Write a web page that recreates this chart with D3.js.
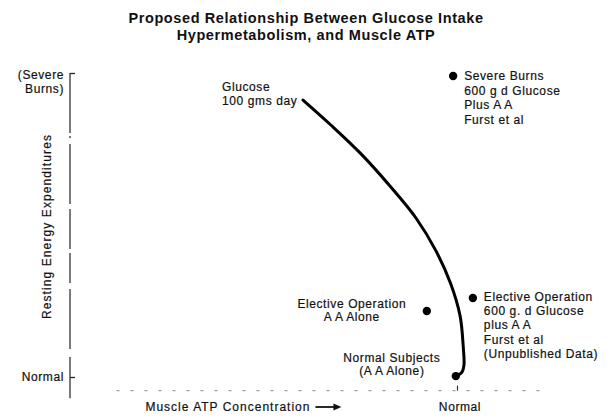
<!DOCTYPE html>
<html>
<head>
<meta charset="utf-8">
<script src="https://cdn.jsdelivr.net/npm/d3@7"></script>
<style>
  body { margin: 0; background: #fff; }
  svg text { font-family: "Liberation Sans", Arial, sans-serif; fill: #111; }
  .ann { font-size: 12px; letter-spacing: 0.6px; stroke: #111; stroke-width: 0.2px; }
  .title { font-size: 14.5px; font-weight: bold; letter-spacing: 0.6px; }
</style>
</head>
<body>
<svg id="chart" width="613" height="418"></svg>
<script>
// x = muscle ATP concentration (100 = normal), y = resting energy expenditure (0 = normal, 100 = severe burns)
var titleLines = ["Proposed Relationship Between Glucose Intake", "Hypermetabolism, and Muscle ATP"]

var curveATP = [60.2, 67.4, 75.2, 82.9, 89.4, 94.6, 98.4, 100.8, 101.6, 101.8, 101.3, 100.0]
var curveREE = [91.1, 82.9, 73.4, 62.5, 52.3, 41.4, 30.6, 20.1, 10.2, 3.9, 1.6, 0.4]
var curveLabel = ["Glucose", "100 gms day"]

var pointATP = [99.0, 104.1, 92.2, 99.7]
var pointREE = [99.0, 26.0, 21.7, 0.3]
var pointLabels = [
	["Severe Burns", "600 g d Glucose", "Plus A A", "Furst et al"],
	["Elective Operation", "600 g. d Glucose", "plus A A", "Furst et al", "(Unpublished Data)"],
	["Elective Operation", "A A  Alone"],
	["Normal Subjects", "(A A  Alone)"]
]

var yTicks = [0, 100]
var yTickLabels = [["Normal"], ["(Severe", "Burns)"]]
var xTicks = [100]
var xTickLabels = ["Normal"]
var yTitle = "Resting Energy Expenditures"
var xTitle = "Muscle ATP Concentration"

var svg = d3.select("#chart")
var x = d3.scaleLinear().domain([0, 100]).range([70, 457])
var y = d3.scaleLinear().domain([0, 100]).range([377, 73])

// title
svg.selectAll(".title").data(titleLines).enter()
	.append("text")
	.attr("class", "title")
	.attr("x", 306)
	.attr("y", function(d, i) { return 23 + i * 17 })
	.attr("text-anchor", "middle")
	.text(function(d) { return d })

// y axis
var yAxis = svg.append("g")
	.attr("transform", "translate(" + x(0) + ",0)")
	.call(d3.axisLeft(y).tickValues(yTicks).tickSize(-5).tickFormat(""))
yAxis.select(".domain").remove()
yAxis.selectAll(".tick line").attr("stroke", "#222").attr("stroke-width", 1.3)
yAxis.append("line")
	.attr("x1", 0).attr("x2", 0)
	.attr("y1", y(100)).attr("y2", y(-7))
	.attr("stroke", "#333")
	.attr("stroke-width", 1.3)
	.attr("stroke-dasharray", "60,3,2,6,60,5,40,4,30,6,60,8")

yTicks.forEach(function(v, i) {
	var lines = yTickLabels[i]
	var t = svg.append("text")
		.attr("class", "ann")
		.attr("text-anchor", "end")
	lines.forEach(function(s, j) {
		t.append("tspan")
			.attr("x", x(0) - 6)
			.attr("y", y(v) + 4 + (lines.length > 1 ? 2 : 0) + j * 14)
			.text(s)
	})
})

svg.append("text")
	.attr("class", "ann")
	.attr("transform", "translate(51," + y(49.5) + ") rotate(-90)")
	.attr("text-anchor", "middle")
	.style("letter-spacing", "1.1px")
	.text(yTitle)

// x axis (faint, broken)
var xAxis = svg.append("g")
	.attr("transform", "translate(0," + y(-4.5) + ")")
	.call(d3.axisTop(x).tickValues(xTicks).tickSize(5).tickFormat(""))
xAxis.select(".domain").remove()
xAxis.selectAll(".tick line").attr("stroke", "#333").attr("stroke-width", 1.2)
xAxis.append("line")
	.attr("x1", x(12)).attr("x2", x(124))
	.attr("y1", 0).attr("y2", 0)
	.attr("stroke", "#888")
	.attr("stroke-width", 1)
	.attr("stroke-dasharray", "3,11")

var xt = svg.append("text")
	.attr("class", "ann")
	.attr("x", x(19.5))
	.attr("y", 411)
	.style("letter-spacing", "1px")
	.text(xTitle)
var arrowX = x(19.5) + xt.node().getComputedTextLength() + 5
svg.append("line")
	.attr("x1", arrowX).attr("x2", arrowX + 20)
	.attr("y1", 407).attr("y2", 407)
	.attr("stroke", "#111").attr("stroke-width", 1.8)
svg.append("path")
	.attr("d", "M" + (arrowX + 18) + ",403.5 L" + (arrowX + 26) + ",407 L" + (arrowX + 18) + ",410.5 Z")
	.attr("fill", "#111")

svg.selectAll(".xlab").data(xTicks).enter()
	.append("text")
	.attr("class", "ann xlab")
	.attr("x", function(d) { return x(d) + 3 })
	.attr("y", 411)
	.attr("text-anchor", "middle")
	.text(function(d, i) { return xTickLabels[i] })

// curve
var curveData = curveATP.map(function(v, i) { return [v, curveREE[i]] })
var line = d3.line()
	.x(function(d) { return x(d[0]) })
	.y(function(d) { return y(d[1]) })
	.curve(d3.curveCatmullRom.alpha(0.5))
svg.append("path")
	.datum(curveData)
	.attr("d", line)
	.attr("fill", "none")
	.attr("stroke", "#000")
	.attr("stroke-width", 3)
	.attr("stroke-linecap", "round")

var gl = svg.append("text").attr("class", "ann")
curveLabel.forEach(function(s, j) {
	gl.append("tspan")
		.attr("x", 222)
		.attr("y", y(curveREE[0]) - 9 + j * 14)
		.text(s)
})

// points
svg.selectAll(".dot").data(pointATP).enter()
	.append("circle")
	.attr("class", "dot")
	.attr("cx", function(d) { return x(d) })
	.attr("cy", function(d, i) { return y(pointREE[i]) })
	.attr("r", 4.2)
	.attr("fill", "#000")

// label placement: [dx, dy of first line, anchor, line step]
var labelPos = [[11, 4, "start", 14.5], [11, 3, "start", 14.2], [-75, -3, "middle", 13], [-64, -14, "middle", 13]]
pointLabels.forEach(function(lines, i) {
	var p = labelPos[i]
	var t = svg.append("text")
		.attr("class", "ann")
		.attr("text-anchor", p[2])
	lines.forEach(function(s, j) {
		t.append("tspan")
			.attr("x", x(pointATP[i]) + p[0])
			.attr("y", y(pointREE[i]) + p[1] + j * p[3])
			.text(s)
	})
})
</script>
</body>
</html>
